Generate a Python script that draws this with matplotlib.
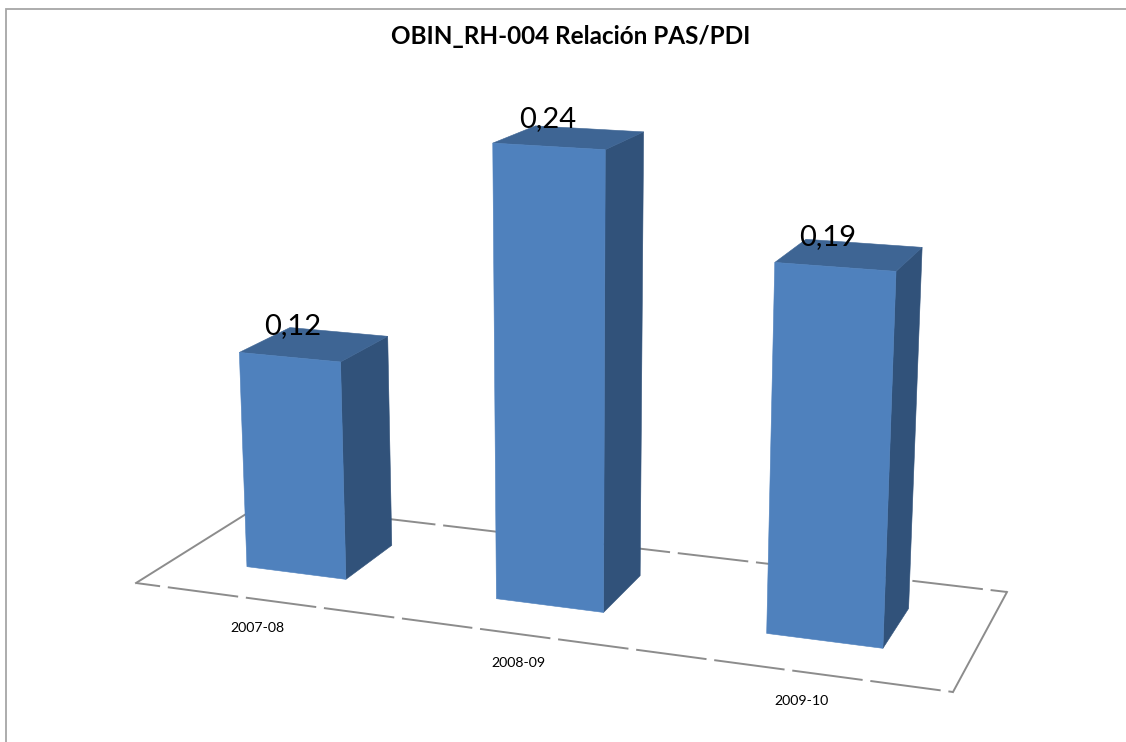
import numpy as np
import matplotlib
matplotlib.use("Agg")
import matplotlib.pyplot as plt
from matplotlib.patches import Polygon

categories = ["2007-08", "2008-09", "2009-10"]
values = [0.12, 0.24, 0.19]
value_labels = ["0,12", "0,24", "0,19"]
title = "OBIN_RH-004 Relación PAS/PDI"

# Camera of the 3D chart: world (u = category axis, d = depth, v = value) -> axes pixels
CAMERA = np.array([
    [-0.35513021526630834, -0.23202608113681203, 0.16839960847866386, -0.20550470723670056],
    [-0.013960798790462128, 0.03928804595021825, 2.8555768721485384, -0.8809503258748594],
    [5.916357525179161e-05, -0.00015890081732122807, 0.00029573589720488513, -0.0015110640237992468],
])

def project(u, d, v):
    q = CAMERA @ np.array([u, d, v, 1.0])
    return q[0] / q[2], q[1] / q[2]

FRONT, SIDE, TOP = "#4F81BD", "#31527A", "#3E6594"
FLOOR = "#8C8C8C"
BAR_HALF = 0.203
D0, D1 = 0.30, 0.71

plt.rcParams["font.family"] = ["Lato", "DejaVu Sans"]
fig = plt.figure(figsize=(11.26, 7.42), dpi=100, facecolor="white")
ax = fig.add_axes([0, 0, 1, 1])
ax.set_xlim(0, 1126)
ax.set_ylim(742, 0)
ax.axis("off")

# chart-area border (only top and left fall inside the picture)
ax.plot([6, 6, 1126], [742, 8.5, 8.5], color="#A6A6A6", lw=1.3, solid_joinstyle="miter", zorder=1)

# floor: four edges, front and back with long dashes, the sides unbroken
n = len(categories)
fl, fr, br, bl = project(0, 0, 0), project(n, 0, 0), project(n, 1, 0), project(0, 1, 0)
floor_style = dict(color=FLOOR, lw=1.4, zorder=2)
ax.plot(*zip(fl, fr), linestyle=(24, (36.5, 4)), **floor_style)
ax.plot(*zip(br, bl), linestyle=(28, (36.5, 4)), **floor_style)
ax.plot(*zip(fl, bl), linestyle="-", **floor_style)
ax.plot(*zip(fr, br), linestyle="-", **floor_style)

# bars
for i, (val, lab, cat) in enumerate(zip(values, value_labels, categories)):
    u0, u1 = i + 0.5 - BAR_HALF, i + 0.5 + BAR_HALF
    front = [project(u0, D0, 0), project(u1, D0, 0), project(u1, D0, val), project(u0, D0, val)]
    side = [project(u1, D0, 0), project(u1, D1, 0), project(u1, D1, val), project(u1, D0, val)]
    top = [project(u0, D0, val), project(u1, D0, val), project(u1, D1, val), project(u0, D1, val)]
    for poly, col in ((side, SIDE), (top, TOP), (front, FRONT)):
        ax.add_patch(Polygon(poly, closed=True, facecolor=col, edgecolor=col, lw=0.4, zorder=3))
    ax.annotate(lab, project(i + 0.5, (D0 + D1) / 2, val), xytext=(-22, 18),
                textcoords="offset pixels", ha="center", va="center",
                fontsize=21, color="black", zorder=5)
    ax.annotate(cat, project(i + 0.5, 0, 0), xytext=(-1, -29),
                textcoords="offset pixels", ha="center", va="center",
                fontsize=10.2, color="black", zorder=5)

ax.text(571, 37, title, ha="center", va="center", fontsize=17.5, fontweight="bold", color="black")

fig.savefig("out.png", dpi=100, facecolor="white")
